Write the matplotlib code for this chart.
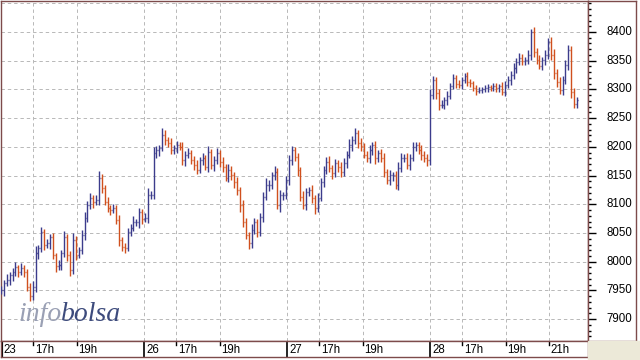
import matplotlib
matplotlib.use("Agg")
import matplotlib.pyplot as plt
import numpy as np
from matplotlib.collections import LineCollection
from matplotlib.patches import Rectangle
from matplotlib.ticker import MultipleLocator
import matplotlib.transforms as mtrans

# 8-minute bar closes, from the 23rd to the 28th
closes = [
    7950, 7963, 7968, 7977, 7982, 7991, 7982, 7989, 7982, 7956,
    7940, 7956, 8015, 8024, 8052, 8029, 8032, 8043, 8011, 7992,
    7994, 8015, 8043, 8011, 7985, 8038, 8011, 8020, 8047, 8076,
    8099, 8111, 8104, 8107, 8146, 8128, 8104, 8093, 8090, 8093,
    8073, 8038, 8025, 8024, 8052, 8059, 8069, 8069, 8086, 8075,
    8076, 8116, 8116,
    8189, 8194, 8198, 8221, 8212, 8207, 8194, 8198, 8203, 8200,
    8177, 8186, 8189, 8177, 8168, 8160, 8177, 8181, 8165, 8191,
    8168, 8177, 8189, 8174, 8165, 8146, 8160, 8151, 8139, 8125,
    8099, 8069, 8047, 8032, 8055, 8069, 8052, 8078, 8113, 8134,
    8134, 8151, 8156, 8099, 8116, 8116, 8142,
    8177, 8194, 8182, 8160, 8113, 8099, 8121, 8125, 8111, 8093,
    8111, 8139, 8160, 8174, 8163, 8154, 8172, 8165, 8156, 8172,
    8186, 8203, 8212, 8224, 8207, 8201, 8186, 8181, 8194, 8203,
    8181, 8189, 8181, 8156, 8142, 8151, 8151, 8134, 8163, 8181,
    8181, 8168, 8181, 8200, 8203, 8194, 8186, 8181, 8177,
    8290, 8316, 8294, 8273, 8273, 8282, 8289, 8306, 8320, 8309,
    8308, 8316, 8323, 8313, 8311, 8302, 8297, 8299, 8301, 8302,
    8304, 8302, 8306, 8302, 8306, 8295, 8308, 8316, 8325, 8337,
    8348, 8355, 8350, 8351, 8360, 8400, 8365, 8351, 8341, 8351,
    8360, 8383, 8360, 8329, 8313, 8299, 8316, 8343, 8369, 8295,
    8275, 8282,
]
# how far each bar's high / low pokes past its body (points)
wick_up = [
    8, 6, 10, 5, 7, 9, 4, 8, 6, 5, 7, 10, 12, 6, 9, 5, 8, 6, 7, 4,
    9, 6, 11, 5, 8, 12, 7, 6, 9, 10, 6, 8, 5, 9, 12, 7, 6, 8, 5, 7,
    6, 9, 5, 8, 7, 6, 10, 5, 8, 6, 9, 12, 8,
    10, 7, 6, 12, 8, 5, 9, 6, 7, 5, 8, 6, 9, 5, 7, 10, 6, 8, 5, 11,
    6, 7, 9, 5, 8, 6, 10, 7, 5, 8, 6, 9, 7, 5, 10, 8, 6, 7, 9, 12,
    8, 6, 10, 7, 9, 6, 8,
    9, 7, 6, 8, 5, 10, 7, 6, 8, 5, 9, 7, 6, 8, 10, 5, 7, 6, 9, 8,
    6, 10, 7, 9, 5, 8, 6, 7, 10, 6, 8, 5, 7, 9, 6, 8, 5, 7, 10, 8,
    6, 9, 7, 8, 5, 6, 9, 7, 6,
    10, 8, 6, 7, 9, 5, 8, 6, 7, 5, 8, 6, 5, 7, 6, 4, 6, 5, 4, 6,
    5, 4, 6, 5, 4, 7, 6, 8, 7, 9, 6, 8, 7, 5, 9, 6, 8, 7, 9, 6,
    8, 7, 9, 10, 6, 8, 7, 9, 8, 6, 7, 5,
]
wick_dn = [
    6, 9, 5, 8, 10, 6, 8, 5, 9, 7, 8, 6, 9, 10, 7, 8, 5, 9, 6, 10,
    7, 8, 6, 9, 10, 6, 8, 5, 7, 9, 6, 8, 10, 6, 9, 8, 5, 7, 9, 6,
    8, 10, 6, 9, 5, 8, 6, 7, 10, 9, 6, 8, 7,
    7, 8, 10, 6, 9, 8, 6, 7, 9, 5, 8, 10, 6, 7, 9, 8, 5, 9, 6, 8,
    7, 10, 6, 9, 8, 5, 7, 9, 10, 8, 12, 9, 7, 10, 8, 6, 9, 7, 8, 6,
    10, 8, 9, 7, 12, 8, 6,
    8, 9, 6, 10, 8, 7, 9, 6, 8, 10, 7, 6, 9, 8, 7, 10, 6, 8, 9, 7,
    8, 6, 10, 7, 9, 8, 6, 7, 9, 8, 10, 7, 8, 9, 6, 8, 10, 7, 9, 6,
    8, 7, 9, 6, 8, 7, 9, 8, 10,
    9, 7, 10, 8, 6, 7, 9, 6, 5, 7, 6, 8, 5, 7, 6, 5, 7, 4, 6, 5,
    6, 5, 4, 7, 6, 5, 7, 6, 8, 7, 9, 6, 8, 7, 6, 9, 8, 7, 6, 8,
    9, 7, 8, 10, 9, 7, 8, 6, 9, 10, 8, 7,
]
bar_minutes = 8
day_labels = ["23", "26", "27", "28"]
hour_labels = [[17, 19], [17, 19], [17, 19], [17, 19, 21]]
y_ticks = list(range(7900, 8401, 50))

DAY = 6.62      # hours one session takes on the axis
OPEN_H = 15.5   # session opens 15:30
X_MAX = 27.18
Y_MIN, Y_MAX = 7862, 8454

BROWN = "#7d4b4b"
GRID = "#b8b8b8"
UP = "#3c3c8c"
DOWN = "#d0501e"
W, H = 640, 360
FS = 8.3

plt.rcParams["font.family"] = ["Liberation Sans", "DejaVu Sans"]
fig = plt.figure(figsize=(6.4, 3.6), dpi=100)
fig.patch.set_facecolor("white")


def box(x0, y0, x1, y1):
    a = fig.add_axes([x0 / W, 1 - y1 / H, (x1 - x0) / W, (y1 - y0) / H])
    for s in a.spines.values():
        s.set_color(BROWN)
        s.set_linewidth(1.0)
    a.set_xticks([])
    a.set_yticks([])
    return a


fig.patches.append(Rectangle((588 / W, 0), 52 / W, 19 / H, transform=fig.transFigure,
                             color="#ece9d8", zorder=0))

# tick positions in hours
day_pos = [d * DAY for d in range(len(day_labels))]
hour_pos = []
for d, hs in enumerate(hour_labels):
    for h in hs:
        hour_pos.append((d * DAY + h - OPEN_H, "%dh" % h))

# main price panel
ax = box(1, 1, 588, 341)
ax.set_xlim(0, X_MAX)
ax.set_ylim(Y_MIN, Y_MAX)
for v in range(7900, 8451, 50):
    ax.axhline(v, color=GRID, lw=0.7, ls=(0, (3.5, 3)), zorder=1)
for x in day_pos[1:] + [p for p, _ in hour_pos]:
    ax.axvline(x, color=GRID, lw=0.7, ls=(0, (3.5, 3)), zorder=1)

t = np.arange(len(closes)) * bar_minutes / 60.0
c = np.array(closes, dtype=float)
o = np.concatenate([[c[0]], c[:-1]])
hi = np.maximum(o, c) + np.array(wick_up)
lo = np.minimum(o, c) - np.array(wick_dn)
d = 0.045
segs, cols = [], []
for ti, oi, ci, h, l in zip(t, o, c, hi, lo):
    col = UP if ci >= oi else DOWN
    segs += [[(ti, l), (ti, h)], [(ti - d, oi), (ti, oi)], [(ti, ci), (ti + d, ci)]]
    cols += [col] * 3
ax.add_collection(LineCollection(segs, colors=cols, linewidths=1.0, zorder=3))

# watermark
ti_ = fig.text(18 / W, 1 - 321 / H, "info", fontsize=20, style="italic",
               family="Liberation Serif", color="#9aa0b4", va="baseline")
fig.canvas.draw()
ext = ti_.get_window_extent(fig.canvas.get_renderer())
fig.text(ext.x1 / W, 1 - 321 / H, "bolsa", fontsize=20, style="italic",
         family="Liberation Serif", color="#3d4b7c", va="baseline")

# time label row
axl = box(1, 341, 588, 357)
axl.set_xlim(0, X_MAX)
axl.set_ylim(0, 1)
for x, lab in zip(day_pos, day_labels):
    axl.plot([x, x], [0, 1], color="black", lw=1.2 if x > 0 else 3)
    axl.text(x + 0.12, 0.42, lab, fontsize=FS, ha="left", va="center")
for x, lab in hour_pos:
    axl.plot([x, x], [0.72, 1], color="black", lw=1)
    axl.text(x + 0.09, 0.42, lab, fontsize=FS, ha="left", va="center")

# price scale panel
axr = box(588, 1, 636, 341)
axr.set_xlim(0, 1)
axr.set_ylim(Y_MIN, Y_MAX)
axr.set_yticks(y_ticks)
axr.yaxis.set_minor_locator(MultipleLocator(10))
axr.tick_params(axis="y", which="major", direction="in", length=6, width=1,
                color="black", labelleft=False)
axr.tick_params(axis="y", which="minor", direction="in", length=2.5, width=1,
                color="black")
tr = mtrans.blended_transform_factory(axr.transAxes, axr.transData)
for v in y_ticks:
    axr.text(0.39, v, str(v), transform=tr, fontsize=FS, ha="left", va="center")

fig.savefig("out.png", dpi=100)
